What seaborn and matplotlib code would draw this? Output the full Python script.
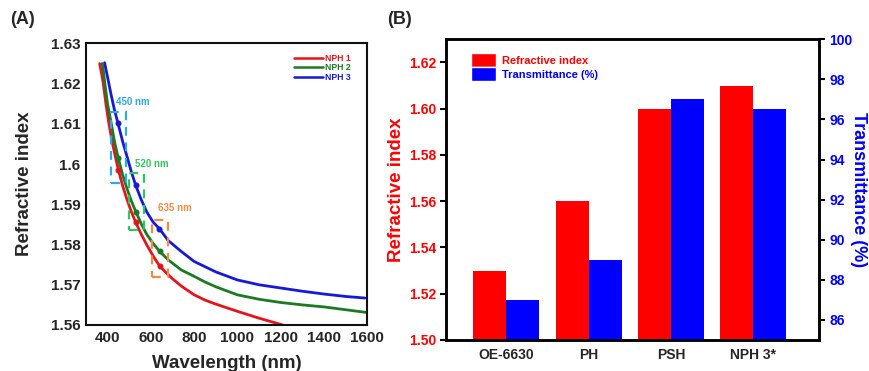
import pandas as pd
import matplotlib.pyplot as plt
import seaborn as sns
from matplotlib.patches import Patch, Rectangle

# Panel A - dispersion curves
wl_nph1 = [363, 372, 380, 392, 406, 420, 435, 450, 470, 490, 510, 530, 555, 580, 610, 640,
           670, 700, 740, 800, 850, 900, 1000, 1100, 1210]
n_nph1 = [1.6250, 1.6225, 1.6200, 1.6150, 1.6100, 1.6058, 1.6020, 1.5985, 1.5945, 1.5911,
          1.5881, 1.5855, 1.5826, 1.5800, 1.5772, 1.5747, 1.5730, 1.5715, 1.5697, 1.5675,
          1.5662, 1.5652, 1.5634, 1.5617, 1.5600]
wl_nph2 = [375, 380, 387, 400, 417, 432, 449, 470, 490, 510, 530, 555, 580, 610, 640, 680,
           740, 800, 850, 900, 1000, 1100, 1200, 1300, 1400, 1500, 1600]
n_nph2 = [1.6250, 1.6233, 1.6200, 1.6148, 1.6100, 1.6055, 1.6015, 1.5972, 1.5938, 1.5908,
          1.5882, 1.5852, 1.5826, 1.5803, 1.5783, 1.5762, 1.5737, 1.5721, 1.5707, 1.5695,
          1.5675, 1.5664, 1.5656, 1.5650, 1.5645, 1.5638, 1.5631]
wl_nph3 = [386, 400, 415, 430, 447, 470, 490, 510, 530, 555, 580, 610, 640, 680, 740, 800,
           850, 900, 1000, 1100, 1200, 1300, 1400, 1500, 1590]
n_nph3 = [1.6252, 1.6215, 1.6175, 1.6138, 1.6103, 1.6055, 1.6018, 1.5980, 1.5947, 1.5912,
          1.5882, 1.5856, 1.5839, 1.5810, 1.5783, 1.5758, 1.5745, 1.5732, 1.5712, 1.5700,
          1.5692, 1.5684, 1.5677, 1.5671, 1.5667]

# marked wavelengths (dots on the curves)
dot_wl_nph1 = [450, 530, 642]
dot_n_nph1 = [1.5985, 1.5855, 1.5747]
dot_wl_nph2 = [449, 530, 640]
dot_n_nph2 = [1.6015, 1.5882, 1.5783]
dot_wl_nph3 = [447, 530, 638]
dot_n_nph3 = [1.6103, 1.5947, 1.5839]

# dashed boxes: (wl_left, wl_right), (n_bottom, n_top) and their labels
box_labels = ['450 nm', '520 nm', '635 nm']
box_wl = [(414, 483), (499, 568), (603, 677)]
box_n = [(1.5953, 1.6130), (1.5835, 1.5979), (1.5720, 1.5862)]
box_text_pos = [(440, 1.6154), (525, 1.6001), (633, 1.5890)]

a_yticks = [1.56, 1.57, 1.58, 1.59, 1.60, 1.61, 1.62, 1.63]
a_yticklabels = ['1.56', '1.57', '1.58', '1.59', '1.6', '1.61', '1.62', '1.63']
a_xticks = [400, 600, 800, 1000, 1200, 1400, 1600]

# Panel B - bars
samples = ['OE-6630', 'PH', 'PSH', 'NPH 3*']
refr_index = [1.530, 1.560, 1.600, 1.610]
transmittance = [87.0, 89.0, 97.0, 96.5]
series_names = ['Refractive index', 'Transmittance (%)']
b_yticks = [1.50, 1.52, 1.54, 1.56, 1.58, 1.60, 1.62]
b_y2ticks = [86, 88, 90, 92, 94, 96, 98, 100]

RED_LINE = '#e3141b'
GREEN_LINE = '#1c7a24'
BLUE_LINE = '#1818d8'
BOX_COLORS = ['#2fa8e6', '#2ec75f', '#f28a45']
RED = '#ff0000'
BLUE = '#0000ff'

sns.set_style('white')
plt.rcParams['font.family'] = ['Liberation Sans', 'DejaVu Sans']
plt.rcParams['font.weight'] = 'bold'

fig = plt.figure(figsize=(8.69, 3.71), dpi=100)
ax = fig.add_axes([0.099, 0.124, 0.3234, 0.759])
bx = fig.add_axes([0.5132, 0.0836, 0.4296, 0.8105])

# ---- panel A ----
curves = pd.concat([
    pd.DataFrame({'wl': wl_nph1, 'n': n_nph1, 'sample': 'NPH 1'}),
    pd.DataFrame({'wl': wl_nph2, 'n': n_nph2, 'sample': 'NPH 2'}),
    pd.DataFrame({'wl': wl_nph3, 'n': n_nph3, 'sample': 'NPH 3'}),
])
line_pal = {'NPH 1': RED_LINE, 'NPH 2': GREEN_LINE, 'NPH 3': BLUE_LINE}
sns.lineplot(data=curves, x='wl', y='n', hue='sample', palette=line_pal, ax=ax,
             linewidth=2.0, legend=False, sort=False, estimator=None)

for wl, nn, col in [(dot_wl_nph1, dot_n_nph1, RED_LINE),
                    (dot_wl_nph2, dot_n_nph2, GREEN_LINE),
                    (dot_wl_nph3, dot_n_nph3, BLUE_LINE)]:
    ax.plot(wl, nn, 'o', color=col, ms=3.3, zorder=4)

for lab, (w0, w1), (n0, n1), (tx, ty), col in zip(box_labels, box_wl, box_n, box_text_pos, BOX_COLORS):
    ax.add_patch(Rectangle((w0, n0), w1 - w0, n1 - n0, fill=False, edgecolor=col,
                           linewidth=1.6, linestyle=(0, (4, 3)), zorder=3))
    ax.text(tx, ty, lab, color=col, fontsize=7, fontweight='bold', va='center', ha='left')

ax.set_xlim(300, 1600)
ax.set_ylim(1.56, 1.63)
ax.set_xticks(a_xticks)
ax.set_yticks(a_yticks)
ax.set_yticklabels(a_yticklabels)
ax.tick_params(direction='in', length=3, width=0.8, color='#aaaaaa',
               labelsize=11, pad=4)
for t in ax.get_xticklabels() + ax.get_yticklabels():
    t.set_fontweight('bold')
for sp in ax.spines.values():
    sp.set_linewidth(1.5)
    sp.set_color('#111111')
ax.set_xlabel('Wavelength (nm)', fontsize=13.5, fontweight='bold')
ax.xaxis.set_label_coords(0.5, -0.106)
ax.set_ylabel('Refractive index', fontsize=13.5, fontweight='bold')
ax.yaxis.set_label_coords(-0.19, 0.5)

handles = [plt.Line2D([], [], color=c, lw=1.8) for c in [RED_LINE, GREEN_LINE, BLUE_LINE]]
ax.legend(handles, ['NPH 1', 'NPH 2', 'NPH 3'], loc='upper right',
          bbox_to_anchor=(0.965, 0.985), frameon=False,
          prop={'size': 6.2, 'weight': 'bold'}, labelcolor=[RED_LINE, GREEN_LINE, BLUE_LINE],
          handlelength=3.4, handletextpad=0.25, labelspacing=0.05, borderaxespad=0.3)

# ---- panel B ----
bx2 = bx.twinx()
df_ri = pd.DataFrame({'sample': samples, 'value': refr_index, 'series': series_names[0]})
df_tr = pd.DataFrame({'sample': samples, 'value': transmittance, 'series': series_names[1]})
bar_pal = {series_names[0]: RED, series_names[1]: BLUE}
sns.barplot(data=df_ri, x='sample', y='value', hue='series', hue_order=series_names,
            order=samples, palette=bar_pal, saturation=1, width=0.8, linewidth=0,
            dodge=True, legend=False, ax=bx)
sns.barplot(data=df_tr, x='sample', y='value', hue='series', hue_order=series_names,
            order=samples, palette=bar_pal, saturation=1, width=0.8, linewidth=0,
            dodge=True, legend=False, ax=bx2)

bx.set_xlim(-0.73, 3.8)
bx2.set_xlim(-0.73, 3.8)
bx.set_ylim(1.50, 1.63)
bx2.set_ylim(85, 100)
bx.set_yticks(b_yticks)
bx.set_yticklabels([f'{v:.2f}' for v in b_yticks])
bx2.set_yticks(b_y2ticks)
bx2.set_yticklabels([str(v) for v in b_y2ticks])
bx.tick_params(axis='y', direction='out', length=4, width=1.5, color='black',
               labelsize=10, labelcolor=RED, pad=3)
bx.tick_params(axis='x', length=0, labelsize=10, pad=6)
bx2.tick_params(axis='y', direction='out', length=4, width=1.5, color='black',
                labelsize=10, labelcolor=BLUE, pad=3)
for t in bx.get_xticklabels() + bx.get_yticklabels() + bx2.get_yticklabels():
    t.set_fontweight('bold')
for a in (bx, bx2):
    for sp in a.spines.values():
        sp.set_linewidth(1.8)
        sp.set_color('black')
        sp.set_visible(True)
bx.set_xlabel('')
bx2.set_xlabel('')
bx.set_ylabel('Refractive index', fontsize=13.5, fontweight='bold', color=RED)
bx.yaxis.set_label_coords(-0.11, 0.5)
bx2.set_ylabel('Transmittance (%)', fontsize=13, fontweight='bold', color=BLUE,
               rotation=270, va='bottom')
bx2.yaxis.set_label_coords(1.083, 0.5)

bar_handles = [Patch(facecolor=RED), Patch(facecolor=BLUE)]
bx2.legend(bar_handles, series_names, loc='upper left', bbox_to_anchor=(0.045, 0.98),
           frameon=False, prop={'size': 8, 'weight': 'bold'}, labelcolor=[RED, BLUE],
           handlelength=2.25, handleheight=1.5, handletextpad=0.6, labelspacing=0.05,
           borderaxespad=0.3)

fig.text(10 / 869, 1 - 20 / 371, '(A)', fontsize=13, fontweight='bold', va='center', ha='left')
fig.text(387 / 869, 1 - 20 / 371, '(B)', fontsize=13, fontweight='bold', va='center', ha='left')

fig.savefig('out.png', dpi=100, facecolor='white')
